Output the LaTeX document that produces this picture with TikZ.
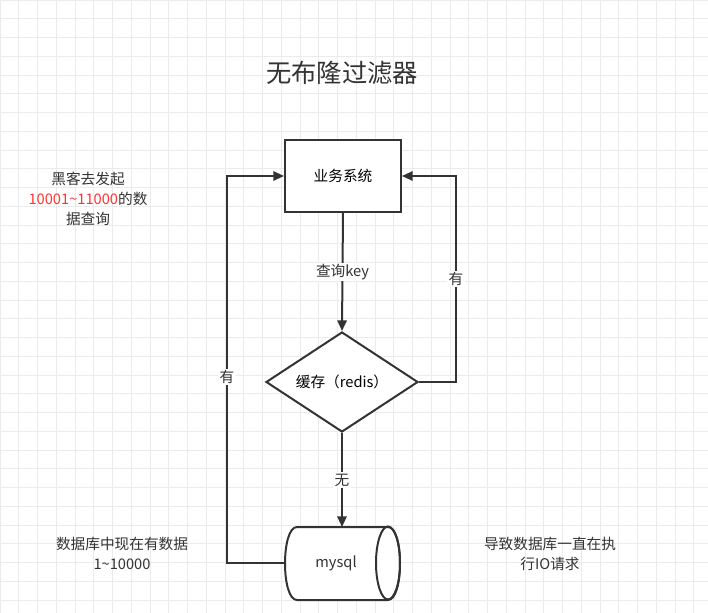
\documentclass[tikz,border=0pt]{standalone}
\usepackage{fontspec}
\setmainfont{Noto Sans CJK SC}
\usetikzlibrary{shapes.geometric,arrows.meta}
\begin{document}
\begin{tikzpicture}[x=0.75pt,y=-0.75pt,
  ln/.style={draw=black!80,line width=1.5pt},
  arr/.style={ln,-{Triangle[length=8pt,width=7pt]}},
  lbl/.style={fill=white,inner sep=1pt,font=\fontsize{11pt}{12pt}\selectfont,text=black!80},
  txt/.style={align=center,font=\fontsize{11pt}{15pt}\selectfont,text=black!80}]
\useasboundingbox (0,0) rectangle (708,613);
\fill[white] (0,0) rectangle (708,613);
\foreach \i in {0,...,38}{
  \draw[black!8,line width=0.5pt] (\i*18.75,0) -- (\i*18.75,613);
  \draw[black!8,line width=0.5pt] (0,\i*18.75) -- (708,\i*18.75);
}
\node[font=\fontsize{19pt}{21pt}\selectfont,text=black!80] (title) at (342,73) {无布隆过滤器};
\node[ln,fill=white,minimum width=87pt,minimum height=54pt,inner sep=0,font=\fontsize{11pt}{12pt}\selectfont] (sys) at (343,176) {业务系统};
\node[ln,fill=white,diamond,aspect=1.53,minimum width=114pt,minimum height=75pt,inner sep=0,font=\fontsize{11pt}{12pt}\selectfont] (cache) at (342,382) {缓存（redis）};
\filldraw[ln,fill=white] (297,527) -- (388,527) .. controls (404,527) and (404,600) .. (388,600) -- (297,600) .. controls (281,600) and (281,527) .. (297,527) -- cycle;
\draw[ln] (388,563) ellipse [x radius=12,y radius=36.5];
\coordinate (dbtop) at (342,527); \coordinate (dbleft) at (285,563);
\node[font=\fontsize{11pt}{12pt}\selectfont,text=black!80] (db) at (336,563) {mysql};
\coordinate (r1) at (456,382); \coordinate (r2) at (456,176);
\coordinate (l1) at (227,563); \coordinate (l2) at (227,176);
\draw[arr] (sys.south) -- node[lbl]{查询key} (cache.north);
\draw[arr] (cache.south) -- node[lbl]{无} (dbtop);
\draw[arr] (cache.east) -- (r1) -- node[lbl]{有} (r2) -- (sys.east);
\draw[arr] (dbleft) -- (l1) -- node[lbl,pos=0.48]{有} (l2) -- (sys.west);
\node[txt] (hack) at (88,199) {黑客去发起\\\textcolor[HTML]{FF3333}{10001\char`~11000}的数\\据查询};
\node[txt] (have) at (122,553) {数据库中现在有数据\\1\char`~10000};
\node[txt] (io) at (550,554) {导致数据库一直在执\\行IO请求};
\end{tikzpicture}
\end{document}
